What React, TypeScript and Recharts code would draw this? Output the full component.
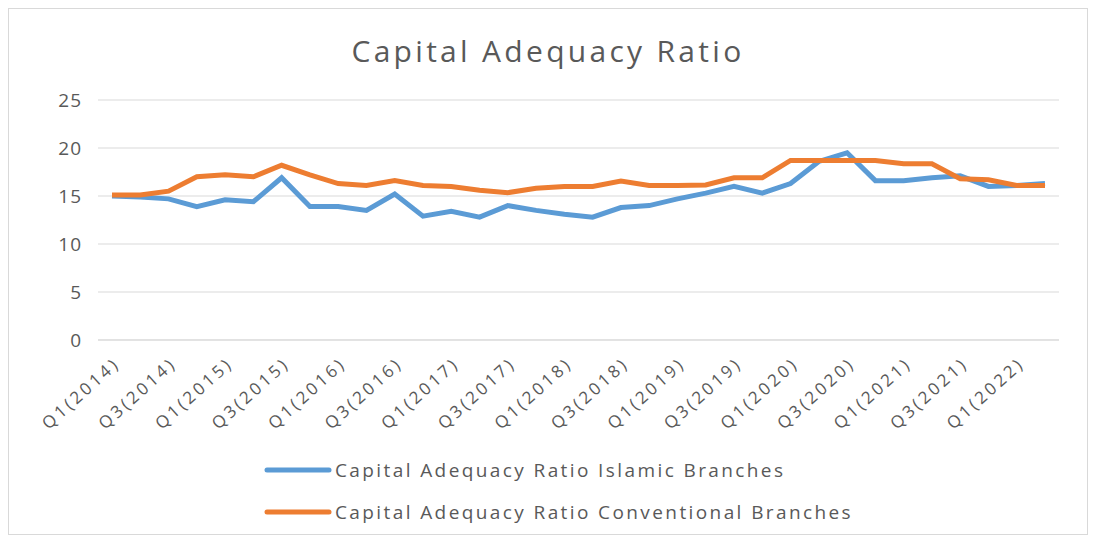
import React from 'react';
import {
  LineChart,
  CartesianGrid,
  XAxis,
  YAxis,
  Legend,
  Line,
} from 'recharts';

const quarters = [
  'Q1(2014)', 'Q2(2014)', 'Q3(2014)', 'Q4(2014)',
  'Q1(2015)', 'Q2(2015)', 'Q3(2015)', 'Q4(2015)',
  'Q1(2016)', 'Q2(2016)', 'Q3(2016)', 'Q4(2016)',
  'Q1(2017)', 'Q2(2017)', 'Q3(2017)', 'Q4(2017)',
  'Q1(2018)', 'Q2(2018)', 'Q3(2018)', 'Q4(2018)',
  'Q1(2019)', 'Q2(2019)', 'Q3(2019)', 'Q4(2019)',
  'Q1(2020)', 'Q2(2020)', 'Q3(2020)', 'Q4(2020)',
  'Q1(2021)', 'Q2(2021)', 'Q3(2021)', 'Q4(2021)',
  'Q1(2022)', 'Q2(2022)',
];

const islamic = [
  15.0, 14.9, 14.7, 13.9, 14.6, 14.4, 16.9, 13.9,
  13.9, 13.5, 15.2, 12.9, 13.4, 12.8, 14.0, 13.5,
  13.1, 12.8, 13.8, 14.0, 14.7, 15.3, 16.0, 15.3,
  16.3, 18.6, 19.5, 16.6, 16.6, 16.9, 17.1, 16.0,
  16.1, 16.3,
];

const conventional = [
  15.1, 15.1, 15.5, 17.0, 17.2, 17.0, 18.2, 17.2,
  16.3, 16.1, 16.6, 16.1, 16.0, 15.6, 15.35, 15.8,
  16.0, 16.0, 16.55, 16.1, 16.1, 16.15, 16.9, 16.9,
  18.7, 18.7, 18.7, 18.7, 18.35, 18.35, 16.8, 16.7,
  16.1, 16.1,
];

const yTicks = [0, 5, 10, 15, 20, 25];

const series = [
  { key: 'islamic', name: 'Capital Adequacy Ratio Islamic Branches', color: '#5b9bd5' },
  { key: 'conventional', name: 'Capital Adequacy Ratio Conventional Branches', color: '#ed7d31' },
];

const data = quarters.map((q, i) => ({
  quarter: q,
  islamic: islamic[i],
  conventional: conventional[i],
}));

const FONT = '"Open Sans", "Liberation Sans", sans-serif';
const GRAY = '#595959';

const QuarterTick = ({ x, y, payload }: any) => (
  <g transform={`translate(${x + 9}, ${y + 25}) rotate(-42)`}>
    <text
      x={0}
      y={0}
      textAnchor="end"
      fontSize={17}
      fill={GRAY}
      fontFamily={FONT}
      style={{ letterSpacing: '3.2px' }}
    >
      {payload.value}
    </text>
  </g>
);

const LegendContent = () => (
  <div style={{ fontFamily: FONT, paddingLeft: 255 }}>
    {series.map((s) => (
      <div key={s.key} style={{ display: 'flex', alignItems: 'center', height: 42 }}>
        <svg width={68} height={10}>
          <line x1={3} y1={5} x2={65} y2={5} stroke={s.color} strokeWidth={5} strokeLinecap="round" />
        </svg>
        <span style={{ fontSize: 19, color: GRAY, marginLeft: 3, letterSpacing: 2.4 }}>{s.name}</span>
      </div>
    ))}
  </div>
);

const App = () => (
  <div
    style={{
      position: 'relative',
      width: 1080,
      height: 527,
      border: '1px solid #d9d9d9',
      boxSizing: 'border-box',
      background: '#fff',
    }}
  >
    <div
      style={{
        position: 'absolute',
        top: 21,
        left: 0,
        width: '100%',
        textAlign: 'center',
        fontFamily: FONT,
        fontSize: 30,
        letterSpacing: 3.3,
        color: GRAY,
      }}
    >
      Capital Adequacy Ratio
    </div>
    <LineChart
      width={1078}
      height={525}
      data={data}
      margin={{ top: 91, right: 28, left: 0, bottom: 1 }}
    >
      <CartesianGrid vertical={false} stroke="#d9d9d9" />
      <XAxis
        dataKey="quarter"
        interval={1}
        height={109}
        padding={{ left: 14, right: 14 }}
        tickLine={false}
        tickSize={0}
        tickMargin={0}
        axisLine={{ stroke: '#d9d9d9' }}
        tick={<QuarterTick />}
      />
      <YAxis
        domain={[0, 25]}
        ticks={yTicks}
        width={89}
        axisLine={false}
        tickLine={false}
        tickSize={0}
        tickMargin={16}
        tick={{ fontSize: 19, fill: GRAY, fontFamily: FONT, letterSpacing: 1 }}
      />
      <Legend
        layout="horizontal"
        verticalAlign="bottom"
        align="left"
        height={84}
        content={<LegendContent />}
      />
      {series.map((s) => (
        <Line
          key={s.key}
          name={s.name}
          type="linear"
          dataKey={s.key}
          stroke={s.color}
          strokeWidth={5}
          dot={false}
          isAnimationActive={false}
        />
      ))}
    </LineChart>
  </div>
);

export default App;
